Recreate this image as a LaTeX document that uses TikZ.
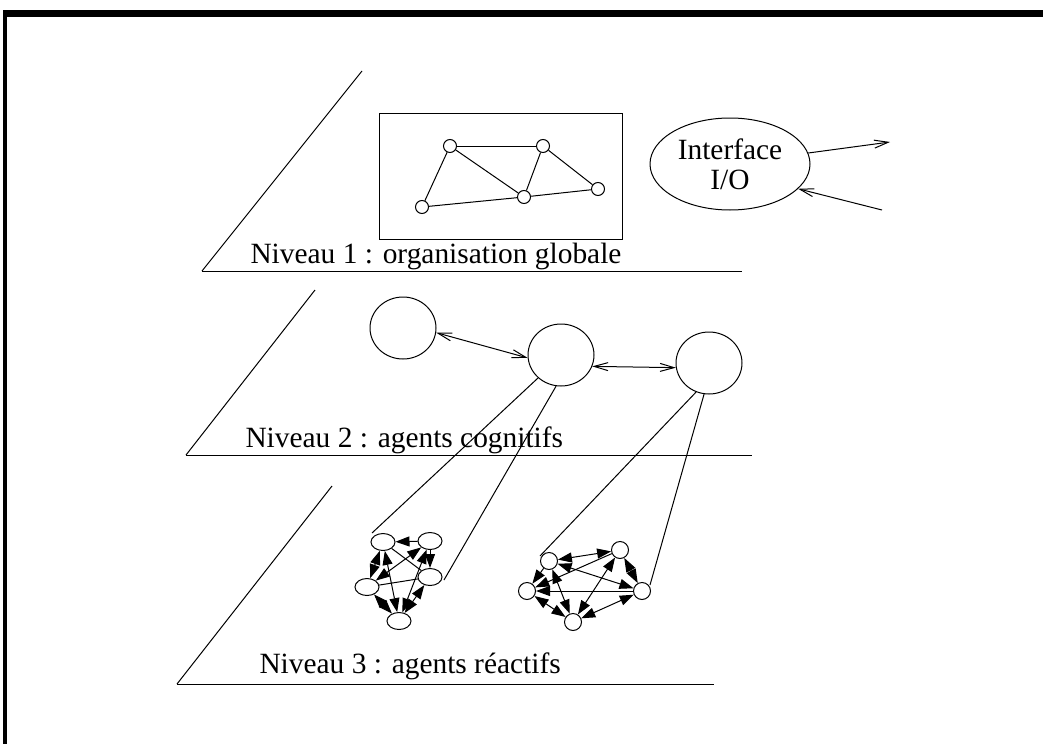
\documentclass[tikz,border=0pt]{standalone}
\usepackage{fontspec}
\setmainfont{Liberation Serif}
\usetikzlibrary{arrows.meta,positioning,shapes.geometric}

\begin{document}
\begin{tikzpicture}[x=0.5pt, y=-0.5pt, line width=0.5pt,
  lvltext/.style={font=\fontsize{14.7}{16}\selectfont, anchor=base west, inner sep=0pt},
  gdot/.style={circle, draw, inner sep=0pt, minimum size=6.5pt},
  cog/.style={ellipse, draw, inner sep=0pt, minimum width=33pt, minimum height=31pt},
  rea/.style={ellipse, draw, inner sep=0pt, minimum width=12pt, minimum height=8.5pt},
  reb/.style={circle, draw, inner sep=0pt, minimum size=8.5pt},
  iolink/.style={-{Straight Barb[length=7pt,width=4pt]}},
  coglink/.style={{Straight Barb[length=7pt,width=4pt]}-{Straight Barb[length=7pt,width=4pt]}},
  reaboth/.style={{Triangle[length=7pt,width=5pt]}-{Triangle[length=7pt,width=5pt]}},
  reaone/.style={-{Triangle[length=7pt,width=5pt]}}]

\useasboundingbox (0,0) rectangle (1043,744);

% frame
\draw[line width=3.5pt] (3,13.5) -- (1043,13.5);
\draw[line width=1.75pt] (5,10) -- (5,744);

\def\drawlevel#1#2#3#4#5{
  \draw (#1,#2) -- (#3,#4);
  \draw (#1,#2) -- (#5,#2);
}

% niveau 1
\drawlevel{202}{271}{362}{71}{742}
\draw (379,113) rectangle (622,239);
\foreach \n/\x/\y in {g1/450/146, g2/543/146, g3/524/197, g4/598/189, g5/422/207}
  \node[gdot] (\n) at (\x,\y) {};
\foreach \a/\b in {g1/g2, g1/g5, g1/g3, g2/g3, g2/g4, g5/g3, g3/g4}
  \draw (\a) -- (\b);
\node[lvltext] (lvl1) at (250,263) {Niveau 1 : organisation globale};

\node[ellipse, draw, inner sep=0pt, minimum width=80pt, minimum height=46pt,
      align=center, font=\fontsize{14.7}{15}\selectfont] (io) at (730,164) {Interface\\I/O};
\coordinate (ioout) at (890,142);
\coordinate (ioin) at (882,210);
\draw[iolink] (io.8) -- (ioout);
\draw[iolink] (ioin) -- (io.-20);

% niveau 2
\drawlevel{186}{455}{315}{290}{752}
\node[cog] (c1) at (403,328) {};
\node[cog] (c2) at (561,355) {};
\node[cog] (c3) at (709,363) {};
\draw[coglink] (c1.-8) -- (c2.185);
\draw[coglink] (c2.-20) -- (c3.188);
\node[lvltext] (lvl2) at (245,447) {Niveau 2 : agents cognitifs};

% niveau 3
\drawlevel{177}{684}{332}{486}{714}
\foreach \n/\x/\y in {e1/383/542, e2/430/541, e3/430/577, e4/367/587, e5/399/621}
  \node[rea] (\n) at (\x,\y) {};
\foreach \n/\x/\y in {f1/549/561, f2/620/550, f3/642/591, f4/527/591, f5/573/622}
  \node[reb] (\n) at (\x,\y) {};
\foreach \a/\b in {e1/e4, e1/e5, e2/e4, e2/e5, e4/e5, e5/e3,
                   f1/f2, f1/f3, f1/f5, f2/f3, f2/f5, f3/f5, f4/f5}
  \draw[reaboth] (\a) -- (\b);
\foreach \a/\b in {e2/e1, e2/e3, f1/f4, f2/f4, f3/f4}
  \draw[reaone] (\a) -- (\b);
\foreach \a/\b in {e1/e3, e4/e3}
  \draw (\a) -- (\b);
\node[lvltext] (lvl3) at (259,673) {Niveau 3 : agents réactifs};

% liens entre niveaux
\coordinate (k1) at (372,533);
\coordinate (k2) at (444,580);
\coordinate (k3) at (540,556);
\coordinate (k4) at (650,585);
\draw (c2.-135) -- (k1);
\draw (c2.-99) -- (k2);
\draw (c3.-114) -- (k3);
\draw (c3.-99) -- (k4);

\end{tikzpicture}
\end{document}
